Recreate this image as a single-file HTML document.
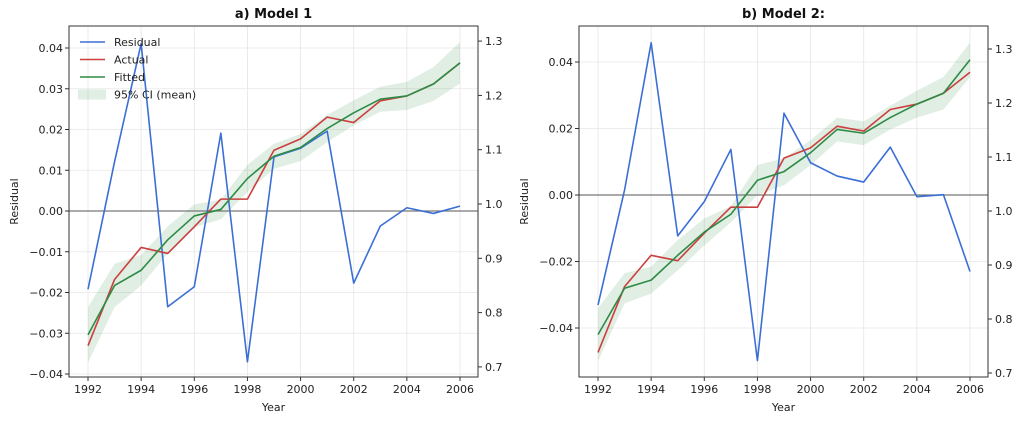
<!DOCTYPE html>
<html><head><meta charset="utf-8"><style>
body{margin:0;background:#fff;}
svg{display:block;font-family:"DejaVu Sans","Liberation Sans",sans-serif;}
</style></head><body>
<svg id="chart" width="1024" height="422" viewBox="0 0 1024 422"></svg>
<script>
const years=[1992,1993,1994,1995,1996,1997,1998,1999,2000,2001,2002,2003,2004,2005,2006];
const xTicks=[1992,1994,1996,1998,2000,2002,2004,2006];
const rightTicks=[0.7,0.8,0.9,1.0,1.1,1.2,1.3];
const m1Residual=[-0.0192,0.0121,0.0411,-0.0235,-0.0186,0.0191,-0.037,0.0133,0.0154,0.0196,-0.0177,-0.0037,0.0008,-0.0006,0.0012];
const m1Actual=[0.739,0.861,0.920,0.909,0.958,1.009,1.009,1.099,1.120,1.160,1.150,1.190,1.199,1.221,1.260];
const m1Fitted=[0.759,0.850,0.878,0.934,0.978,0.990,1.047,1.088,1.104,1.139,1.168,1.193,1.199,1.221,1.260];
const m1CiHalf=[0.051,0.040,0.028,0.025,0.021,0.018,0.025,0.023,0.025,0.025,0.023,0.023,0.026,0.031,0.038];
const m1LeftTicks=[-0.04,-0.03,-0.02,-0.01,0,0.01,0.02,0.03,0.04];
const m2Residual=[-0.0331,0.0015,0.0458,-0.0123,-0.002,0.0137,-0.0498,0.0246,0.0097,0.0057,0.0039,0.0144,-0.0005,0.0001,-0.023];
const m2Actual=[0.738,0.860,0.918,0.908,0.959,1.007,1.007,1.098,1.117,1.157,1.148,1.188,1.198,1.218,1.257];
const m2Fitted=[0.771,0.857,0.872,0.918,0.961,0.994,1.057,1.073,1.108,1.151,1.144,1.173,1.198,1.218,1.280];
const m2CiHalf=[0.049,0.028,0.025,0.028,0.025,0.015,0.028,0.025,0.023,0.022,0.022,0.022,0.025,0.030,0.032];
const m2LeftTicks=[-0.04,-0.02,0,0.02,0.04];

const NS='http://www.w3.org/2000/svg';
const svg=document.getElementById('chart');
function mk(tag,attrs,parent){const e=document.createElementNS(NS,tag);for(const k in attrs)e.setAttribute(k,attrs[k]);(parent||svg).appendChild(e);return e;}
function fmt(v,d){const s=Math.abs(v).toFixed(d);return (v<-1e-9?'\u2212':'')+s;}

function panel(cfg){
  const g=mk('g',{});
  
  
  const {L,R,T,B}=cfg;
  const xs=y=>cfg.x0+(y-1992)*(cfg.x1-cfg.x0)/14;
  const yl=v=>cfg.yl0+ (-v)*cfg.ylScale;
  const yr=v=>cfg.yr0-(v-1.0)*cfg.yrScale;
  xTicks.forEach(t=>{const l=mk('line',{x1:xs(t),x2:xs(t),y1:T,y2:B,stroke:'#e6e6e6','stroke-width':0.8},g);
    });
  cfg.leftTicks.forEach(t=>{const l=mk('line',{x1:L,x2:R,y1:yl(t),y2:yl(t),stroke:'#e6e6e6','stroke-width':0.8},g);
    });
  let up=years.map((y,i)=>xs(y)+','+yr(cfg.fitted[i]+cfg.ci[i]));
  let lo=years.map((y,i)=>xs(y)+','+yr(cfg.fitted[i]-cfg.ci[i])).reverse();
  const band=mk('polygon',{points:up.concat(lo).join(' '),fill:'#2e8b45','fill-opacity':0.15},g);
  
  const z=mk('line',{x1:L,x2:R,y1:yl(0),y2:yl(0),stroke:'#777','stroke-width':1.2},g);
  
  const line=(vals,fn,color,name)=>{const p=mk('polyline',{points:years.map((y,i)=>xs(y)+','+fn(vals[i])).join(' '),fill:'none',stroke:color,'stroke-width':1.6,'stroke-linejoin':'round'},g);
    };
  line(cfg.residual,yl,'#3b6fd6','residual-line');
  line(cfg.actual,yr,'#cc3f3f','actual-line');
  line(cfg.fitted,yr,'#2e8b45','fitted-line');
  const fr=mk('rect',{x:L,y:T,width:R-L,height:B-T,fill:'none',stroke:'#333','stroke-width':1},g);
  
  xTicks.forEach(t=>{mk('line',{x1:xs(t),x2:xs(t),y1:B,y2:B+4,stroke:'#333'},g);
    const tx=mk('text',{x:xs(t),y:B+16,'text-anchor':'middle','font-size':11,fill:'#222'},g);tx.textContent=t;
    });
  cfg.leftTicks.forEach(t=>{mk('line',{x1:L-4,x2:L,y1:yl(t),y2:yl(t),stroke:'#333'},g);
    const tx=mk('text',{x:L-6,y:yl(t)+4,'text-anchor':'end','font-size':11,fill:'#222'},g);tx.textContent=fmt(t,cfg.dec);
    });
  rightTicks.forEach(t=>{mk('line',{x1:R,x2:R+4,y1:yr(t),y2:yr(t),stroke:'#333'},g);
    const tx=mk('text',{x:R+7,y:yr(t)+4,'font-size':11,fill:'#222'},g);tx.textContent=t.toFixed(1);
    });
  const ti=mk('text',{x:(L+R)/2,y:18,'text-anchor':'middle','font-size':13,'font-weight':'bold',fill:'#111'},g);ti.textContent=cfg.title;
  
  const xl=mk('text',{x:(L+R)/2,y:411,'text-anchor':'middle','font-size':11,fill:'#222'},g);xl.textContent='Year';
  
  const yt=mk('text',{x:0,y:0,transform:`translate(${cfg.ylabX},${(T+B)/2}) rotate(-90)`,'text-anchor':'middle','font-size':11,fill:'#222'},g);yt.textContent='Residual';
  
}
panel({name:'model-1-panel',L:69,R:478,T:26,B:377,x0:88,x1:460,yl0:211,ylScale:4075,yr0:204,yrScale:543,
  residual:m1Residual,actual:m1Actual,fitted:m1Fitted,ci:m1CiHalf,leftTicks:m1LeftTicks,dec:2,title:'a) Model 1',ylabX:18});
panel({name:'model-2-panel',L:579,R:988,T:26,B:377,x0:598,x1:970,yl0:195,ylScale:3325,yr0:211,yrScale:540,
  residual:m2Residual,actual:m2Actual,fitted:m2Fitted,ci:m2CiHalf,leftTicks:m2LeftTicks,dec:2,title:'b) Model 2:',ylabX:528});
const lg=mk('g',{});


const items=[['Residual','#3b6fd6'],['Actual','#cc3f3f'],['Fitted','#2e8b45'],['95% CI (mean)',null]];
items.forEach((it,i)=>{const y=42+i*17.5;
  if(it[1])mk('line',{x1:80,x2:105,y1:y,y2:y,stroke:it[1],'stroke-width':1.6},lg);
  else mk('rect',{x:78,y:y-5,width:28,height:10,fill:'#2e8b45','fill-opacity':0.15},lg);
  const t=mk('text',{x:114,y:y+4,'font-size':11,fill:'#222'},lg);t.textContent=it[0];
  });
</script>
</body></html>
